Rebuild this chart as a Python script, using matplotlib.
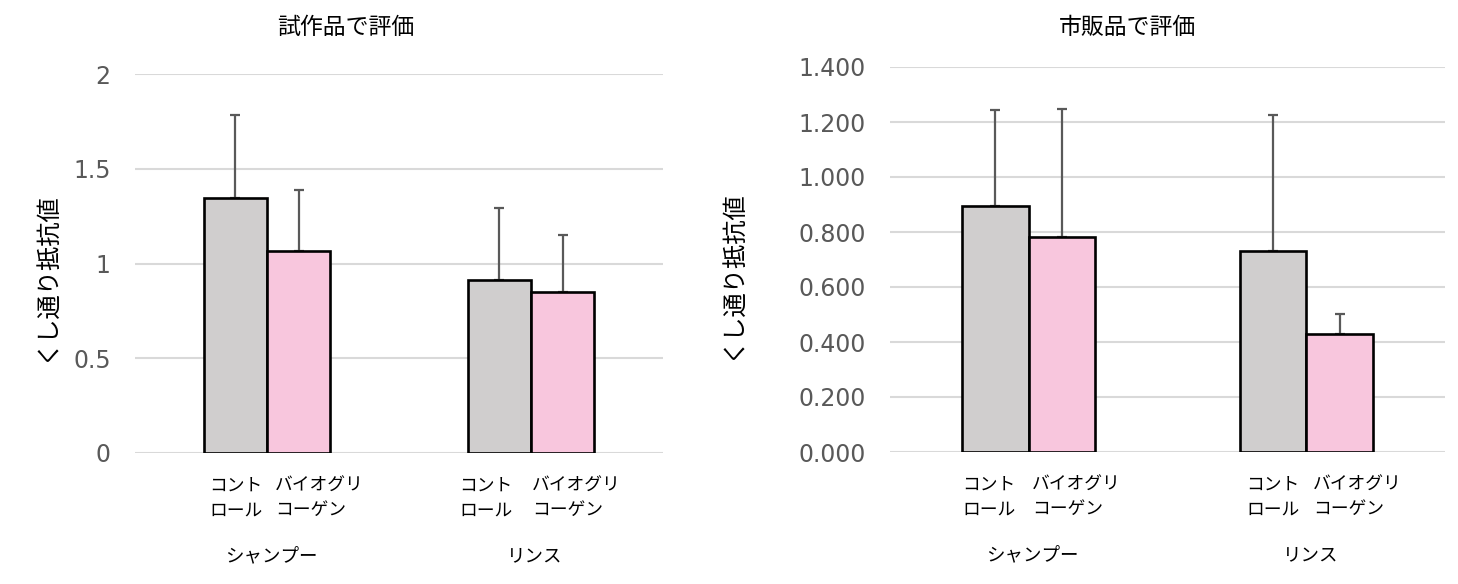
import matplotlib
matplotlib.use("Agg")
import matplotlib.pyplot as plt
import numpy as np

groups = ["シャンプー", "リンス"]
sub_labels = ["コント\nロール", "バイオグリ\nコーゲン"]

left_title = "試作品で評価"
left_control = [1.346, 0.913]
left_control_err = [0.437, 0.380]
left_bio = [1.066, 0.850]
left_bio_err = [0.320, 0.300]
left_ticks = [0, 0.5, 1, 1.5, 2]
left_ticklabels = ["0", "0.5", "1", "1.5", "2"]

right_title = "市販品で評価"
right_control = [0.895, 0.731]
right_control_err = [0.348, 0.494]
right_bio = [0.782, 0.429]
right_bio_err = [0.464, 0.072]
right_ticks = [0.0, 0.2, 0.4, 0.6, 0.8, 1.0, 1.2, 1.4]
right_ticklabels = ["0.000", "0.200", "0.400", "0.600", "0.800", "1.000", "1.200", "1.400"]

ylabel = "くし通り抵抗値"

# layout constants
W, H = 1458, 584
CJK = ["Noto Sans CJK JP", "DejaVu Sans"]
GREY_FILL = "#D0CECE"
PINK_FILL = "#F8C6DD"
ERR_COL = "#595959"
GRID_COL = "#D9D9D9"
TICK_COL = "#595959"
PX = 72 / 100  # points per pixel

fig = plt.figure(figsize=(W / 100, H / 100), dpi=100)


def draw(ax, ctrl, ctrl_err, bio, bio_err, ticks, ticklabels, ymax, title,
         title_xy, bw, ylab_xy, label_dx):
    x = np.arange(len(groups))
    for vals, errs, col, off in [(ctrl, ctrl_err, GREY_FILL, -bw / 2),
                                 (bio, bio_err, PINK_FILL, bw / 2)]:
        ax.errorbar(x + off, vals, yerr=[np.zeros(len(vals)), errs], fmt="none",
                    ecolor=ERR_COL, elinewidth=1.6, capsize=3.8, capthick=1.6, zorder=2.9)
        ax.bar(x + off, vals, width=bw, color=col, edgecolor="black", linewidth=1.9, zorder=3)
    ax.set_xlim(-0.5, len(groups) - 0.5)
    ax.set_ylim(0, ymax)
    ax.set_yticks(ticks)
    ax.set_yticklabels(ticklabels, fontsize=17, color=TICK_COL, family="DejaVu Sans")
    ax.tick_params(axis="y", length=0, pad=17.5)
    ax.set_xticks([])
    ax.grid(axis="y", color=GRID_COL, linewidth=1.5, zorder=0)
    for s in ax.spines.values():
        s.set_visible(False)
    ax.set_axisbelow(True)
    fig.text(title_xy[0] / W, 1 - title_xy[1] / H, title, ha="center", va="center",
             fontsize=16.5, family=CJK)
    trans = matplotlib.transforms.blended_transform_factory(ax.transData, ax.transAxes)
    k = 0
    for i in range(len(groups)):
        for j, off in enumerate([-bw / 2, bw / 2]):
            ax.annotate(sub_labels[j], xy=(i + off - bw / 2, 0), xycoords=trans,
                        xytext=(label_dx[k] * PX, -17.3), textcoords="offset points",
                        ha="left", va="top", fontsize=12.8, family=CJK, linespacing=1.45)
            k += 1
        ax.annotate(groups[i], xy=(i, 0), xycoords=trans, xytext=(4 * PX, -103 * PX),
                    textcoords="offset points", ha="center", va="center",
                    fontsize=13.3, family=CJK)
    fig.text(ylab_xy[0] / W, 1 - ylab_xy[1] / H, ylabel,
             rotation=90, ha="center", va="center", fontsize=17.5, family=CJK)


ax1 = fig.add_axes([135 / W, (H - 453) / H, 528 / W, 379 / H])
draw(ax1, left_control, left_control_err, left_bio, left_bio_err, left_ticks,
     left_ticklabels, 2.0, left_title, (346, 27), 0.24, (47, 277), [6, 8, -8, 1])

ax2 = fig.add_axes([890 / W, (H - 452) / H, 555 / W, 385 / H])
draw(ax2, right_control, right_control_err, right_bio, right_bio_err, right_ticks,
     right_ticklabels, 1.4, right_title, (1128, 27), 0.24, (733, 275), [0, 3, 7, 7])

fig.savefig("out.png", dpi=100)
